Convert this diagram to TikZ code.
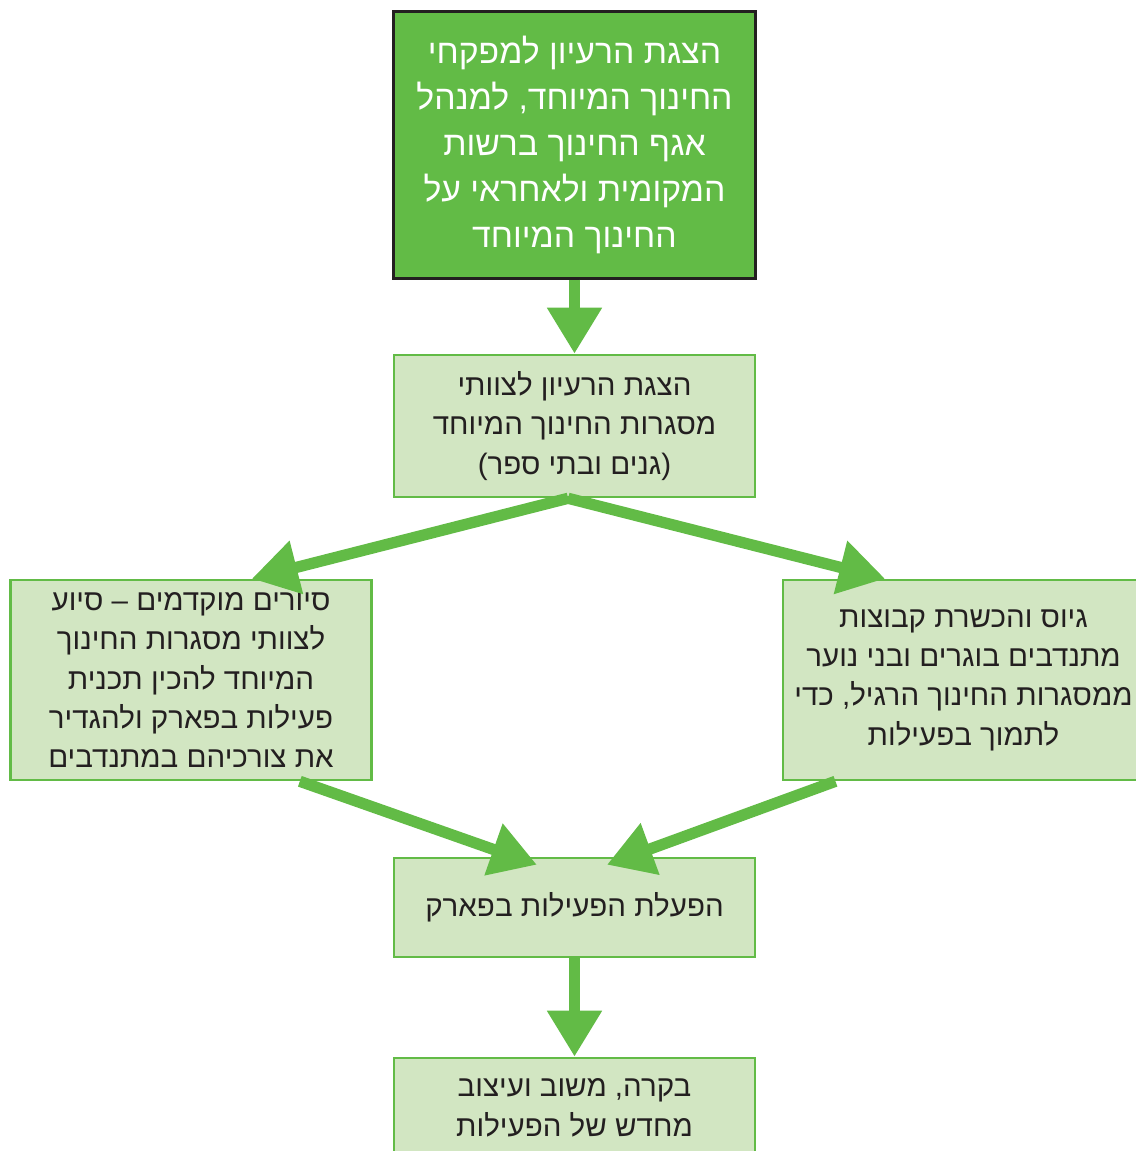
\documentclass[tikz,border=0pt]{standalone}
\usepackage{fontspec}
\setmainfont{Liberation Sans}
\newfontfamily\hebfont[Script=Hebrew]{Liberation Sans}
\TeXXeTstate=1
\usetikzlibrary{arrows.meta}
\definecolor{leaf}{RGB}{98,187,70}
\definecolor{pale}{RGB}{210,230,194}
\definecolor{ink}{RGB}{35,31,32}
\newcommand{\rl}[1]{\beginR #1\endR}

\begin{document}
\begin{tikzpicture}[x=0.025cm,y=-0.025cm,
  box/.style={draw=leaf,line width=1.8pt,fill=pale,text=ink,align=center,
    minimum width=9.025cm,inner sep=0pt,font=\hebfont\fontsize{21}{28}\selectfont},
  headbox/.style={box,draw=ink,line width=2.1pt,fill=leaf,text=white,
    font=\hebfont\fontsize{24}{32.7}\selectfont},
  flow/.style={draw=leaf,line width=8pt,-{Triangle[length=1.15cm,width=1.3cm]}}]
\useasboundingbox (0,0) rectangle (1136,1151);
\clip (0,0) rectangle (1136,1151);

%boxes, centred on the pixel grid of the page
\node[headbox,minimum height=6.65cm] (idea) at (574.5,145)
  {\rl{הצגת הרעיון למפקחי}\\ \rl{החינוך המיוחד, למנהל}\\ \rl{אגף החינוך ברשות}\\
   \rl{המקומית ולאחראי על}\\ \rl{החינוך המיוחד}};
\node[box,minimum height=3.55cm] (teams) at (574.5,426)
  {\rl{הצגת הרעיון לצוותי}\\ \rl{מסגרות החינוך המיוחד}\\ \rl{(גנים ובתי ספר)}};
\node[box,minimum height=5cm] (tours) at (191,680)
  {\rl{סיורים מוקדמים – סיוע}\\ \rl{לצוותי מסגרות החינוך}\\ \rl{המיוחד להכין תכנית}\\
   \rl{פעילות בפארק ולהגדיר}\\ \rl{את צורכיהם במתנדבים}};
\node[box,minimum height=5cm] (recruit) at (963.5,680)
  {\rl{גיוס והכשרת קבוצות}\\ \rl{מתנדבים בוגרים ובני נוער}\\ \rl{ממסגרות החינוך הרגיל, כדי}\\
   \rl{לתמוך בפעילות}};
\node[box,minimum height=2.475cm] (run) at (574.5,907.5)
  {\rl{הפעלת הפעילות בפארק}};
\node[box,minimum height=2.5cm] (review) at (574.5,1108)
  {\rl{בקרה, משוב ועיצוב}\\ \rl{מחדש של הפעילות}};

%arrows
\draw[flow] (idea) -- (teams);
\draw[flow] ([xshift=-0.16cm]teams.south) -- ([xshift=1.52cm]tours.north);
\draw[flow] ([xshift=-0.16cm]teams.south) -- ([xshift=-1.96cm]recruit.north);
\draw[flow] ([xshift=2.72cm]tours.south) -- ([xshift=-0.94cm,yshift=-0.2cm]run.north);
\draw[flow] ([xshift=-3.2cm]recruit.south) -- ([xshift=0.81cm,yshift=-0.2cm]run.north);
\draw[flow] (run) -- (review);
\end{tikzpicture}
\end{document}
